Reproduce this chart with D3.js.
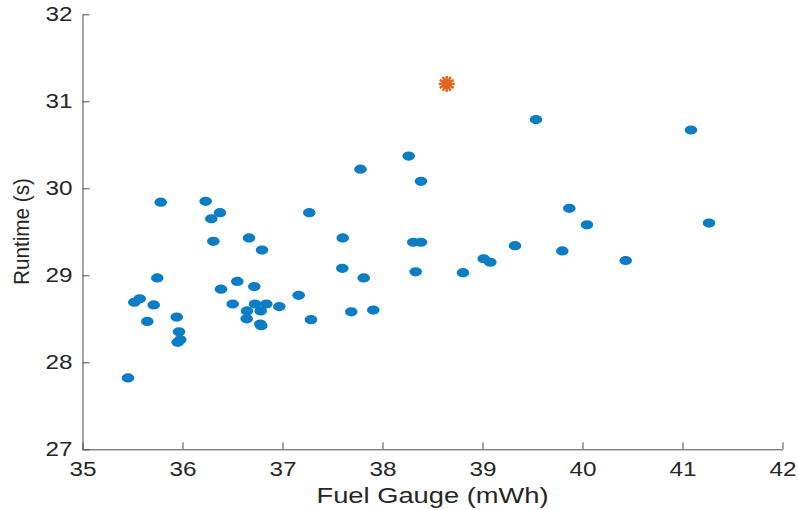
<!DOCTYPE html>
<html>
<head>
<meta charset="utf-8">
<script src="https://cdn.jsdelivr.net/npm/d3@7/dist/d3.min.js"></script>
<style>
  html, body { margin: 0; padding: 0; background: #fff; }
  svg text { font-family: "Liberation Sans", Arial, Helvetica, sans-serif; fill: #262626; }
</style>
</head>
<body>
<svg id="chart" width="798" height="510"></svg>
<script>
const fuelGauge = [35.455, 35.518, 35.572, 35.648, 35.712, 35.748, 35.782, 35.942, 35.965, 35.952,
  35.978, 36.232, 36.288, 36.308, 36.375, 36.385, 36.502, 36.548, 36.642, 36.645,
  36.665, 36.718, 36.725, 36.782, 36.778, 36.788, 36.795, 36.838, 36.968, 37.162,
  37.268, 37.285, 37.602, 37.598, 37.688, 37.780, 37.812, 37.908, 38.262, 38.308,
  38.332, 38.385, 38.385, 38.805, 39.012, 39.078, 39.325, 39.535, 39.798, 39.868,
  40.045, 40.432, 41.085, 41.265];
const runtime = [27.82, 28.69, 28.73, 28.47, 28.66, 28.97, 29.84, 28.52, 28.35, 28.23,
  28.26, 29.85, 29.65, 29.39, 29.72, 28.84, 28.67, 28.93, 28.50, 28.59,
  29.43, 28.87, 28.67, 28.59, 28.44, 28.42, 29.29, 28.67, 28.64, 28.77,
  29.72, 28.49, 29.43, 29.08, 28.58, 30.22, 28.97, 28.60, 30.37, 29.38,
  29.04, 30.08, 29.38, 29.03, 29.19, 29.15, 29.34, 30.79, 29.28, 29.77,
  29.58, 29.17, 30.67, 29.60];
const highlightX = [38.642];
const highlightY = [31.20];
const xTicks = [35, 36, 37, 38, 39, 40, 41, 42];
const yTicks = [27, 28, 29, 30, 31, 32];
const xLabel = "Fuel Gauge (mWh)";
const yLabel = "Runtime (s)";

(function () {
const svg = d3.select("#chart");
const mLeft = 82.5, mRight = 782.5, mTop = 14.3, mBottom = 449.3;
const x = d3.scaleLinear().domain([35, 42]).range([mLeft, mRight]);
const y = d3.scaleLinear().domain([27, 32]).range([mBottom, mTop]);
const axisColor = "#4d4d4d";

function styleTicks(g) {
  g.select(".domain").attr("stroke", axisColor);
  g.selectAll(".tick line").attr("stroke", axisColor);
  g.selectAll(".tick text").attr("font-size", 20).attr("fill", "#262626")
    .attr("font-family", "Liberation Sans, Arial, sans-serif")
    .attr("textLength", 27).attr("lengthAdjust", "spacingAndGlyphs");
}

// x axis
const gx = svg.append("g").attr("transform", `translate(0,${mBottom})`)
  .call(d3.axisBottom(x).tickValues(xTicks).tickSizeInner(-7).tickSizeOuter(0).tickPadding(12.5).tickFormat(d3.format("d")));
styleTicks(gx);

// y axis
const gy = svg.append("g").attr("transform", `translate(${mLeft},0)`)
  .call(d3.axisLeft(y).tickValues(yTicks).tickSizeInner(-7).tickSizeOuter(0).tickPadding(10).tickFormat(d3.format("d")));
styleTicks(gy);

// labels
svg.append("text").attr("x", (mLeft + mRight) / 2).attr("y", 502.5)
  .attr("text-anchor", "middle").attr("font-size", 22)
  .attr("textLength", 232).attr("lengthAdjust", "spacingAndGlyphs").text(xLabel);
svg.append("text").attr("transform", `translate(28.5,231.5) rotate(-90)`)
  .attr("text-anchor", "middle").attr("font-size", 22)
  .attr("textLength", 107).attr("lengthAdjust", "spacingAndGlyphs").text(yLabel);

// points
svg.append("g").selectAll("ellipse").data(fuelGauge).join("ellipse")
  .attr("cx", (d) => x(d)).attr("cy", (d, i) => y(runtime[i]))
  .attr("rx", 6.3).attr("ry", 4.6).attr("fill", "#0a7dc5");

// highlighted point (asterisk-like)
const star = svg.append("g").selectAll("g").data(highlightX).join("g")
  .attr("transform", (d, i) => `translate(${x(d)},${y(highlightY[i])})`);
star.append("circle").attr("r", 5).attr("fill", "#e2661f");
star.each(function () {
  const g = d3.select(this);
  for (let k = 0; k < 6; k++) {
    const a = k * Math.PI / 6;
    g.append("line")
      .attr("x1", -8 * Math.cos(a)).attr("y1", -8 * Math.sin(a))
      .attr("x2", 8 * Math.cos(a)).attr("y2", 8 * Math.sin(a))
      .attr("stroke", "#e2661f").attr("stroke-width", 2.5);
  }
});
})();
</script>
</body>
</html>
